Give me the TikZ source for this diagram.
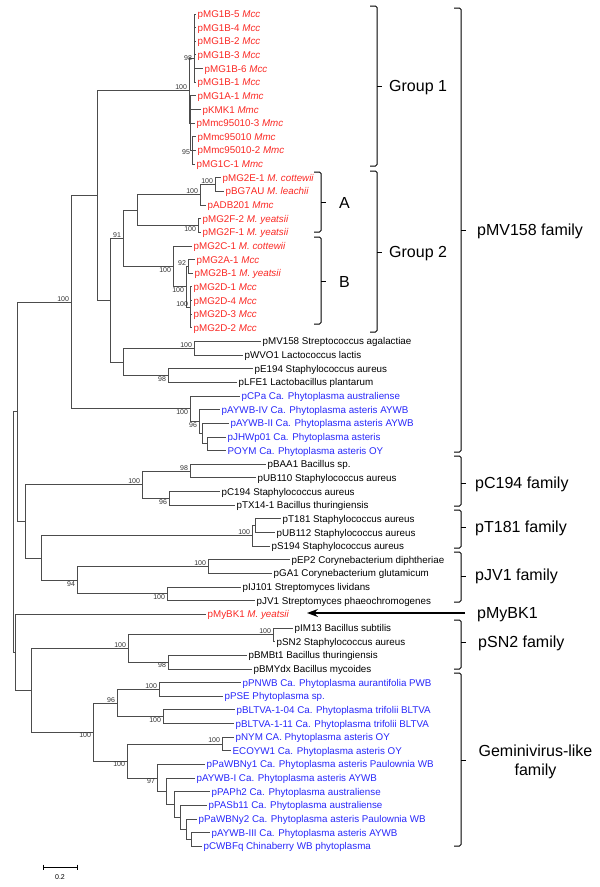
\documentclass[tikz,border=0pt]{standalone}
\usepackage{fontspec}
\setmainfont{Liberation Sans}
\usetikzlibrary{arrows.meta}
\definecolor{plred}{RGB}{250,40,35}
\definecolor{plblue}{RGB}{40,40,250}
\tikzset{
	br/.style={black!70, line width=0.9pt},
	leaf/.style={anchor=west, inner xsep=1.5pt, inner ysep=0pt, text height=7pt, text depth=0pt, font=\fontsize{9.8}{11}\selectfont},
	bsa/.style={anchor=south east, inner sep=0.8pt, xshift=-1pt, font=\fontsize{7}{8}\selectfont, text=black!80},
	bsb/.style={bsa, anchor=north east},
	bse/.style={bsa, anchor=east},
	brk/.style={line width=1pt, rounded corners=1.5pt},
	fam/.style={anchor=west, inner sep=0pt, text height=11.5pt, text depth=0pt, font=\fontsize{16}{19}\selectfont},
}
\begin{document}
\begin{tikzpicture}[x=1pt, y=-1pt]
		\useasboundingbox (0,0) rectangle (600,887);
		% Leaves
		\foreach \i/\tx/\c/\txt in {
			1/196/plred/{pMG1B-5 \textit{Mcc}}, 2/196/plred/{pMG1B-4 \textit{Mcc}},
			3/196/plred/{pMG1B-2 \textit{Mcc}}, 4/196/plred/{pMG1B-3 \textit{Mcc}},
			5/203/plred/{pMG1B-6 \textit{Mcc}}, 6/196/plred/{pMG1B-1 \textit{Mcc}},
			7/196/plred/{pMG1A-1 \textit{Mmc}}, 8/201/plred/{pKMK1 \textit{Mmc}},
			9/195/plred/{pMmc95010-3 \textit{Mmc}}, 10/196/plred/{pMmc95010 \textit{Mmc}},
			11/196/plred/{pMmc95010-2 \textit{Mmc}}, 12/195/plred/{pMG1C-1 \textit{Mmc}},
			13/221/plred/{pMG2E-1 \textit{M. cottewii}}, 14/224/plred/{pBG7AU \textit{M. leachii}},
			15/206/plred/{pADB201 \textit{Mmc}}, 16/201/plred/{pMG2F-2 \textit{M. yeatsii}},
			17/201/plred/{pMG2F-1 \textit{M. yeatsii}}, 18/192/plred/{pMG2C-1 \textit{M. cottewii}},
			19/195/plred/{pMG2A-1 \textit{Mcc}}, 20/193/plred/{pMG2B-1 \textit{M. yeatsii}},
			21/192/plred/{pMG2D-1 \textit{Mcc}}, 22/192/plred/{pMG2D-4 \textit{Mcc}},
			23/192/plred/{pMG2D-3 \textit{Mcc}}, 24/192/plred/{pMG2D-2 \textit{Mcc}},
			25/261/black/{pMV158 Streptococcus agalactiae}, 26/243/black/{pWVO1 Lactococcus lactis},
			27/253/black/{pE194 Staphylococcus aureus}, 28/237/black/{pLFE1 Lactobacillus plantarum},
			29/240/plblue/{pCPa Ca. Phytoplasma australiense},
			30/220/plblue/{pAYWB-IV Ca. Phytoplasma asteris AYWB},
			31/229/plblue/{pAYWB-II Ca. Phytoplasma asteris AYWB},
			32/226/plblue/{pJHWp01 Ca. Phytoplasma asteris},
			33/226/plblue/{POYM Ca. Phytoplasma asteris OY},
			34/266/black/{pBAA1 Bacillus sp.}, 35/256/black/{pUB110 Staphylococcus aureus},
			36/220/black/{pC194 Staphylococcus aureus}, 37/235/black/{pTX14-1 Bacillus thuringiensis},
			38/281/black/{pT181 Staphylococcus aureus}, 39/275/black/{pUB112 Staphylococcus aureus},
			40/270/black/{pS194 Staphylococcus aureus}, 41/290/black/{pEP2 Corynebacterium diphtheriae},
			42/272/black/{pGA1 Corynebacterium glutamicum}, 43/241/black/{pIJ101 Streptomyces lividans},
			44/255/black/{pJV1 Streptomyces phaeochromogenes}, 45/206/plred/{pMyBK1 \textit{M. yeatsii}},
			46/293/black/{pIM13 Bacillus subtilis}, 47/275/black/{pSN2 Staphylococcus aureus},
			48/247/black/{pBMBt1 Bacillus thuringiensis}, 49/252/black/{pBMYdx Bacillus mycoides},
			50/241/plblue/{pPNWB Ca. Phytoplasma aurantifolia PWB},
			51/223/plblue/{pPSE Phytoplasma sp.},
			52/235/plblue/{pBLTVA-1-04 Ca. Phytoplasma trifolii BLTVA},
			53/234/plblue/{pBLTVA-1-11 Ca. Phytoplasma trifolii BLTVA},
			54/234/plblue/{pNYM CA. Phytoplasma asteris OY},
			55/231/plblue/{ECOYW1 Ca. Phytoplasma asteris OY},
			56/205/plblue/{pPaWBNy1 Ca. Phytoplasma asteris Paulownia WB},
			57/195/plblue/{pAYWB-I Ca. Phytoplasma asteris AYWB},
			58/210/plblue/{pPAPh2 Ca. Phytoplasma australiense},
			59/207/plblue/{pPASb11 Ca. Phytoplasma australiense},
			60/197/plblue/{pPaWBNy2 Ca. Phytoplasma asteris Paulownia WB},
			61/210/plblue/{pAYWB-III Ca. Phytoplasma asteris AYWB},
			62/202/plblue/{pCWBFq Chinaberry WB phytoplasma}}{
			\pgfmathsetmacro\yy{14+(\i-1)*13.645}
			\coordinate (t\i) at (\tx,\yy);
			\node[leaf, text=\c] (l\i) at (t\i) {\txt};
		}
		
		% Inner nodes
		\coordinate (g1b) at (194,58);
		\coordinate (g1c) at (192,150.5);
		\coordinate (g1l) at (190,123.2);
		\coordinate (g1) at (189,90.6);
		\coordinate (n215) at (215,184.5);
		\coordinate (n203) at (200,194.8);
		\coordinate (n198) at (198,225.5);
		\coordinate (n137) at (137,210.1);
		\coordinate (n188) at (188,266.4);
		\coordinate (n190) at (190,307.4);
		\coordinate (n186) at (186,286.9);
		\coordinate (n173) at (173,266.4);
		\coordinate (g2) at (123,238.3);
		\coordinate (n194) at (194,348.3);
		\coordinate (n168) at (168,375.6);
		\coordinate (n123) at (123,362);
		\coordinate (n110) at (110,300.1);
		\coordinate (n97) at (97,195.4);
		\coordinate (n207) at (207,443.8);
		\coordinate (n202) at (202,433.6);
		\coordinate (n199) at (199,421.7);
		\coordinate (n190b) at (190,408.9);
		\coordinate (n71) at (71,302.1);
		\coordinate (n190c) at (190,471.1);
		\coordinate (n169) at (169,498.4);
		\coordinate (n142) at (142,484.8);
		\coordinate (n255) at (255,525.7);
		\coordinate (n252) at (252,535.9);
		\coordinate (n208) at (208,566.6);
		\coordinate (n167) at (167,593.9);
		\coordinate (n77) at (77,580.3);
		\coordinate (n41) at (41,558.1);
		\coordinate (n25) at (25,521.5);
		\coordinate (n17) at (17,411.8);
		\coordinate (n273) at (273,634.9);
		\coordinate (n168b) at (168,662.1);
		\coordinate (n128) at (128,648.5);
		\coordinate (n159) at (159,689.5);
		\coordinate (n163) at (163,716.8);
		\coordinate (n117) at (117,703.1);
		\coordinate (n222) at (222,744);
		\coordinate (n191) at (191,839.5);
		\coordinate (n186b) at (186,829.3);
		\coordinate (n180) at (180,817.4);
		\coordinate (n174) at (174,804.6);
		\coordinate (n166) at (166,791.4);
		\coordinate (n157) at (157,778);
		\coordinate (n127) at (127,761);
		\coordinate (n93) at (93,732.1);
		\coordinate (n31) at (31,690.3);
		\coordinate (n15) at (15,652.4);
		\coordinate (root) at (13,532.1);
		
		% Branches
		\foreach \p/\c in {g1b/t1, g1b/t2, g1b/t3, g1b/t4, g1b/t5, g1b/t6,
			g1c/t10, g1c/t11, g1c/t12, g1l/t7, g1l/t8, g1l/t9, g1l/g1c, g1/g1b, g1/g1l,
			n215/t13, n215/t14, n203/n215, n203/t15, n198/t16, n198/t17, n137/n203, n137/n198,
			n188/t19, n188/t20, n190/t21, n190/t22, n190/t23, n190/t24, n186/n188, n186/n190,
			n173/t18, n173/n186, g2/n137, g2/n173, n194/t25, n194/t26, n168/t27, n168/t28,
			n123/n194, n123/n168, n110/g2, n110/n123, n97/g1, n97/n110,
			n207/t32, n207/t33, n202/t31, n202/n207, n199/t30, n199/n202, n190b/t29, n190b/n199,
			n71/n97, n71/n190b, n190c/t34, n190c/t35, n169/t36, n169/t37, n142/n190c, n142/n169,
			n255/t38, n255/t39, n252/n255, n252/t40, n208/t41, n208/t42, n167/t43, n167/t44,
			n77/n208, n77/n167, n41/n252, n41/n77, n25/n142, n25/n41, n17/n71, n17/n25,
			n273/t46, n273/t47, n168b/t48, n168b/t49, n128/n273, n128/n168b,
			n159/t50, n159/t51, n163/t52, n163/t53, n117/n159, n117/n163, n222/t54, n222/t55,
			n191/t61, n191/t62, n186b/t60, n186b/n191, n180/t59, n180/n186b, n174/t58, n174/n180,
			n166/t57, n166/n174, n157/t56, n157/n166, n127/n222, n127/n157, n93/n117, n93/n127,
			n31/n128, n31/n93, n15/t45, n15/n31, root/n17, root/n15}
			\draw[br] (\p) |- (\c);
		
		% Bootstrap values
		\foreach \n/\v in {g1/100, n215/100, n203/100, g2/91, n188/92, n190/100, n194/100,
			n71/100, n190c/98, n142/100, n252/100, n208/100, n273/100, n128/100, n159/100,
			n117/96, n222/100}
			\node[bsa] (b\n) at (\n) {\v};
		\foreach \n/\v in {n198/100, n173/100, n186/100, n168/98, n190b/100, n199/96, n169/96,
			n77/94, n167/100, n168b/98, n163/100, n93/100, n127/100, n157/97}
			\node[bsb] (b\n) at (\n) {\v};
		\node[bse] (bg1b) at (g1b) {98};
		\node[bse, yshift=-2pt] (bg1c) at (g1c) {95};
		
		% Brackets
		\foreach \xa/\ya/\yb/\ym in {370/6/166/86, 370/171/332/252, 314/172/232/202, 314/237/324/281,
			454/8/452/230, 454/456/506/483, 454/510/548/527, 454/552/602/576,
			454/620/669/642, 454/673/846/760}{
			\draw[brk] (\xa,\ya) -- ++(7,0) |- (\xa,\yb);
			\draw[brk] (\xa+7,\ym) -- ++(5,0);
		}
		\node[fam] (grp1) at (389,86) {Group 1};
		\node[fam] (grp2) at (389,252) {Group 2};
		\node[fam] (suba) at (339,203) {A};
		\node[fam] (subb) at (339,282) {B};
		\node[fam] (fmv) at (477,230) {pMV158 family};
		\node[fam] (fc) at (475,483) {pC194 family};
		\node[fam] (ft) at (475,527) {pT181 family};
		\node[fam] (fj) at (475,575) {pJV1 family};
		\node[fam] (fmy) at (477,613) {pMyBK1};
		\node[fam] (fsn) at (478,642) {pSN2 family};
		\node[font=\fontsize{16}{19}\selectfont, align=center] (fgem) at (535.5,762) {Geminivirus-like\\family};
		
		% Arrow to pMyBK1
		\coordinate (mytip) at (307,612);
		\draw[-{Stealth[length=11pt, width=8pt]}, line width=1.1pt] ([xshift=-12pt]fmy.west) -- (fmy.west -| mytip);
		
		% Scale bar
		\coordinate (sbl) at (43,867);
		\coordinate (sbr) at (77,867);
		\draw[line width=0.8pt] (sbl) -- (sbr);
		\draw[line width=0.6pt] ([yshift=2.5pt]sbl) -- ([yshift=-2.5pt]sbl) ([yshift=2.5pt]sbr) -- ([yshift=-2.5pt]sbr);
		\node[font=\fontsize{7}{8}\selectfont] (sbv) at (60,877) {0.2};
	\end{tikzpicture}
\end{document}
